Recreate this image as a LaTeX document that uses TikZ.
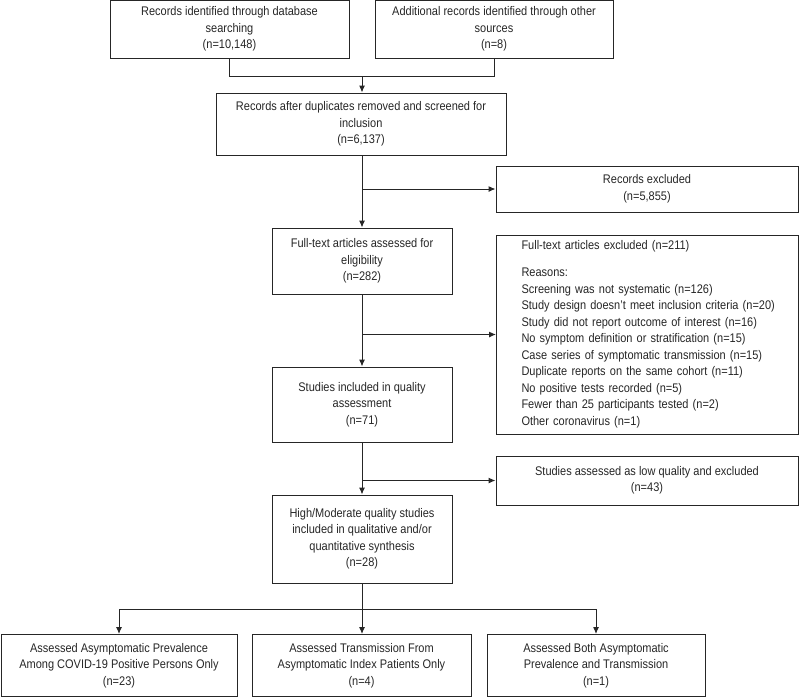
\documentclass[tikz,border=0pt]{standalone}
\usepackage{fontspec}
\setmainfont{Liberation Sans}[FakeStretch=0.88]
\usetikzlibrary{arrows.meta}
\begin{document}
\begin{tikzpicture}[x=1pt,y=-1pt,
  font=\fontsize{12.5}{16.5}\selectfont,
  box/.style={draw=black!85, line width=1pt, align=center, inner sep=0pt, text=black!85},
  arr/.style={draw=black!85, line width=1pt, -{Latex[length=7pt,width=6pt]}},
  ln/.style={draw=black!85, line width=1pt}]
\useasboundingbox (0,0) rectangle (800,697);
\node[box, minimum width=239, minimum height=57.5] (b1) at (229.5,29.25) {Records identified through database\\searching\\(n=10,148)};
\node[box, minimum width=238, minimum height=57.5] (b2) at (494,29.25) {Additional records identified through other\\sources\\(n=8)};
\node[box, minimum width=290, minimum height=62] (b3) at (361,124) {Records after duplicates removed and screened for\\inclusion\\(n=6,137)};
\node[box, minimum width=302, minimum height=46] (rex) at (647,189) {Records excluded\\(n=5,855)};
\node[box, minimum width=180, minimum height=66] (b4) at (362,261) {Full-text articles assessed for\\eligibility\\(n=282)};
\node[box, minimum width=302, minimum height=199, text width=302, align=left, anchor=west] (fex) at (496,334.5) {\hspace*{25pt}\parbox[c]{270pt}{Full-text articles excluded (n=211)\\[10.5pt]
Reasons:\\
Screening was not systematic (n=126)\\
Study design doesn't meet inclusion criteria (n=20)\\
Study did not report outcome of interest (n=16)\\
No symptom definition or stratification (n=15)\\
Case series of symptomatic transmission (n=15)\\
Duplicate reports on the same cohort (n=11)\\
No positive tests recorded (n=5)\\
Fewer than 25 participants tested (n=2)\\
Other coronavirus (n=1)}};
\node[box, minimum width=180, minimum height=75] (b5) at (362,404.5) {Studies included in quality\\assessment\\(n=71)};
\node[box, minimum width=302, minimum height=49] (lq) at (647,480.5) {Studies assessed as low quality and excluded\\(n=43)};
\node[box, minimum width=180, minimum height=88] (b6) at (362,539) {High/Moderate quality studies\\included in qualitative and/or\\quantitative synthesis\\(n=28)};
\node[box, minimum width=236, minimum height=62] (b7) at (119,665.5) {Assessed Asymptomatic Prevalence\\Among COVID-19 Positive Persons Only\\(n=23)};
\node[box, minimum width=219, minimum height=62] (b8) at (361.5,665.5) {Assessed Transmission From\\Asymptomatic Index Patients Only\\(n=4)};
\node[box, minimum width=218, minimum height=62] (b9) at (596,665.5) {Assessed Both Asymptomatic\\Prevalence and Transmission\\(n=1)};
\coordinate (j1) at (362,76);
\coordinate (j2) at (362,609);
\draw[ln] (b1.south) -- (b1.south |- j1) -| (b2.south);
\draw[arr] (j1) -- (b3.north -| j1);
\draw[arr] (b3.south -| j1) -- (b4.north -| j1);
\draw[arr] (j1 |- rex.west) -- (rex.west);
\draw[arr] (b4.south -| j1) -- (b5.north -| j1);
\draw[arr] (j1 |- fex.west) -- (fex.west);
\draw[arr] (b5.south -| j1) -- (b6.north -| j1);
\draw[arr] (j1 |- lq.west) -- (lq.west);
\draw[ln] (b6.south -| j1) -- (j2);
\draw[ln] (b7.north |- j2) -- (b9.north |- j2);
\draw[arr] (b7.north |- j2) -- (b7.north);
\draw[arr] (j2) -- (b8.north -| j2);
\draw[arr] (b9.north |- j2) -- (b9.north);
\end{tikzpicture}
\end{document}
